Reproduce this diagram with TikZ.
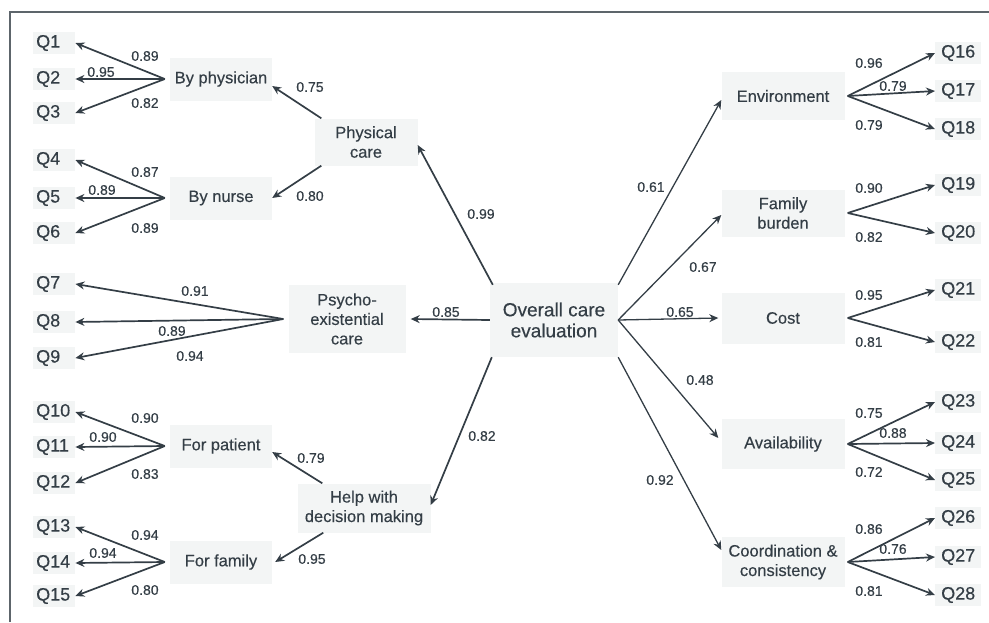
\documentclass[tikz,border=0pt]{standalone}
\usepackage{fontspec}
\setmainfont{Liberation Sans}[FakeBold=0.35]
\usetikzlibrary{arrows.meta}
\definecolor{ink}{RGB}{52,62,70}
\definecolor{boxbg}{RGB}{243,245,245}
\begin{document}
\begin{tikzpicture}[x=1pt,y=-1pt,
  lat/.style={fill=boxbg, text=ink, font=\fontsize{16.5}{19.5}\selectfont, align=center, inner sep=0pt},
  qL/.style={fill=boxbg, text=ink, font=\fontsize{18}{20}\selectfont, anchor=west, inner xsep=3pt, inner ysep=3pt, text width=36pt, align=left},
  qR/.style={fill=boxbg, text=ink, font=\fontsize{18}{20}\selectfont, anchor=west, inner xsep=6pt, inner ysep=3pt},
  num/.style={text=ink, font=\fontsize{14}{16}\selectfont, inner sep=1pt},
  arr/.style={draw=ink, line width=1.7pt, -{Stealth[length=9pt,width=8pt]}},
  thinarr/.style={arr, line width=1.3pt},
  frame/.style={draw=ink!80, line width=1.5pt}]
\useasboundingbox (0,0) rectangle (989,622);
% frame
\coordinate (fTL) at (10,12);
\coordinate (fTR) at (989,12);
\coordinate (fBL) at (10,622);
\draw[frame] (fBL) -- (fTL) -- (fTR);

% ---- central node
\node[lat, font=\fontsize{19}{21}\selectfont, minimum width=128pt, minimum height=74pt] (overall) at (554,320) {Overall care\\evaluation};

% ---- left second level
\node[lat, minimum width=103pt, minimum height=47pt] (physical) at (366,142) {Physical\\care};
\node[lat, minimum width=117pt, minimum height=68pt] (psycho) at (347,319) {Psycho-\\existential\\care};
\node[lat, minimum width=133pt, minimum height=49pt] (help) at (364,508) {Help with\\decision making};

% ---- left first level
\node[lat, minimum width=102pt, minimum height=43pt] (bphys) at (221,79) {By physician};
\node[lat, minimum width=102pt, minimum height=43pt] (bnurse) at (221,198) {By nurse};
\node[lat, minimum width=102pt, minimum height=43pt] (fpat) at (221,446) {For patient};
\node[lat, minimum width=102pt, minimum height=43pt] (ffam) at (221,562) {For family};

% ---- right level
\node[lat, minimum width=123pt, minimum height=48pt] (env) at (783,96) {Environment};
\node[lat, minimum width=123pt, minimum height=47pt] (fburden) at (783,213) {Family\\burden};
\node[lat, minimum width=123pt, minimum height=51pt] (cost) at (783,318) {Cost};
\node[lat, minimum width=123pt, minimum height=50pt] (avail) at (783,444) {Availability};
\node[lat, minimum width=123pt, minimum height=50pt] (coord) at (783,562) {Coordination \&\\consistency};

% ---- left Q nodes
\node[qL] (q1) at (33,43) {Q1};
\node[qL] (q2) at (33,79) {Q2};
\node[qL] (q3) at (33,113) {Q3};
\node[qL] (q4) at (33,160) {Q4};
\node[qL] (q5) at (33,198) {Q5};
\node[qL] (q6) at (33,233) {Q6};
\node[qL] (q7) at (33,284) {Q7};
\node[qL] (q8) at (33,322) {Q8};
\node[qL] (q9) at (33,358) {Q9};
\node[qL] (q10) at (33,412) {Q10};
\node[qL] (q11) at (33,447) {Q11};
\node[qL] (q12) at (33,483) {Q12};
\node[qL] (q13) at (33,527) {Q13};
\node[qL] (q14) at (33,563) {Q14};
\node[qL] (q15) at (33,596) {Q15};

% ---- right Q nodes
\node[qR] (q16) at (935,53) {Q16};
\node[qR] (q17) at (935,91) {Q17};
\node[qR] (q18) at (935,129) {Q18};
\node[qR] (q19) at (935,185) {Q19};
\node[qR] (q20) at (935,233) {Q20};
\node[qR] (q21) at (935,290) {Q21};
\node[qR] (q22) at (935,342) {Q22};
\node[qR] (q23) at (935,402) {Q23};
\node[qR] (q24) at (935,443) {Q24};
\node[qR] (q25) at (935,480) {Q25};
\node[qR] (q26) at (935,518) {Q26};
\node[qR] (q27) at (935,557) {Q27};
\node[qR] (q28) at (935,595) {Q28};

% ---- fan origins
\coordinate (bpO) at ([xshift=-5pt]bphys.west);
\coordinate (bnO) at ([xshift=-5pt]bnurse.west);
\coordinate (psO) at ([xshift=-5pt]psycho.west);
\coordinate (fpO) at ([xshift=-5pt]fpat.west);
\coordinate (ffO) at ([xshift=-5pt]ffam.west);
\coordinate (envO) at ([xshift=3pt]env.east);
\coordinate (fbO) at ([xshift=3pt]fburden.east);
\coordinate (coO) at ([xshift=3pt]cost.east);
\coordinate (avO) at ([xshift=3pt]avail.east);
\coordinate (cdO) at ([xshift=3pt]coord.east);

% ---- left fans
\draw[arr] (bpO) -- (q1.east);
\draw[arr] (bpO) -- (q2.east);
\draw[arr] (bpO) -- (q3.east);
\draw[arr] (bnO) -- (q4.east);
\draw[arr] (bnO) -- (q5.east);
\draw[arr] (bnO) -- (q6.east);
\draw[arr] (psO) -- (q7.east);
\draw[arr] (psO) -- (q8.east);
\draw[arr] (psO) -- (q9.east);
\draw[arr] (fpO) -- (q10.east);
\draw[arr] (fpO) -- (q11.east);
\draw[arr] (fpO) -- (q12.east);
\draw[arr] (ffO) -- (q13.east);
\draw[arr] (ffO) -- (q14.east);
\draw[arr] (ffO) -- (q15.east);

% ---- right fans
\draw[arr] (envO) -- (q16.west);
\draw[arr] (envO) -- (q17.west);
\draw[arr] (envO) -- (q18.west);
\draw[arr] (fbO) -- (q19.west);
\draw[arr] (fbO) -- (q20.west);
\draw[arr] (coO) -- (q21.west);
\draw[arr] (coO) -- (q22.west);
\draw[arr] (avO) -- (q23.west);
\draw[arr] (avO) -- (q24.west);
\draw[arr] (avO) -- (q25.west);
\draw[arr] (cdO) -- (q26.west);
\draw[arr] (cdO) -- (q27.west);
\draw[arr] (cdO) -- (q28.west);

% ---- second to first level
\draw[arr] ([xshift=7pt]physical.north west) -- ([yshift=-7pt]bphys.east);
\draw[arr] ([xshift=7pt]physical.south west) -- (bnurse.east);
\draw[arr] ([xshift=25pt]help.north west) -- ([yshift=-6pt]fpat.east);
\draw[arr] ([xshift=26pt]help.south west) -- ([xshift=3pt]ffam.east);

% ---- central arrows
\draw[arr] ([xshift=3pt,yshift=-2pt]overall.north west) -- ([yshift=-3pt]physical.east);
\draw[arr] (overall.west) -- ([xshift=5pt]psycho.east);
\draw[arr] ([xshift=2pt]overall.south west) -- ([yshift=3pt]help.east);
\draw[thinarr] ([yshift=-2pt]overall.north east) -- ([yshift=-4pt]env.west);
\draw[thinarr] (overall.east) -- ([yshift=-2pt]fburden.west);
\draw[thinarr] (overall.east) -- ([xshift=-3pt]cost.west);
\draw[thinarr] (overall.east) -- ([xshift=-3pt,yshift=6pt]avail.west);
\draw[thinarr] (overall.south east) -- ([yshift=12pt]coord.west);

% ---- loading labels
\node[num] (n1) at (145,56) {0.89};
\node[num] (n2) at (101,72) {0.95};
\node[num] (n3) at (145,103) {0.82};
\node[num] (n4) at (145,172) {0.87};
\node[num] (n5) at (102,190) {0.89};
\node[num] (n6) at (145,228) {0.89};
\node[num] (n7) at (195,291) {0.91};
\node[num] (n8) at (172,331) {0.89};
\node[num] (n9) at (190,356) {0.94};
\node[num] (n10) at (145,418) {0.90};
\node[num] (n11) at (103,437) {0.90};
\node[num] (n12) at (145,474) {0.83};
\node[num] (n13) at (145,535) {0.94};
\node[num] (n14) at (103,553) {0.94};
\node[num] (n15) at (145,590) {0.80};
\node[num] (m1) at (310,87) {0.75};
\node[num] (m2) at (310,196) {0.80};
\node[num] (m3) at (311,458) {0.79};
\node[num] (m4) at (312,559) {0.95};
\node[num] (c1) at (481,214) {0.99};
\node[num] (c2) at (446,312) {0.85};
\node[num] (c3) at (482,436) {0.82};
\node[num] (c4) at (651,187) {0.61};
\node[num] (c5) at (703,267) {0.67};
\node[num] (c6) at (680,312) {0.65};
\node[num] (c7) at (700,380) {0.48};
\node[num] (c8) at (660,480) {0.92};
\node[num] (r1) at (869,63) {0.96};
\node[num] (r2) at (893,86) {0.79};
\node[num] (r3) at (869,125) {0.79};
\node[num] (r4) at (869,188) {0.90};
\node[num] (r5) at (869,237) {0.82};
\node[num] (r6) at (869,295) {0.95};
\node[num] (r7) at (869,342) {0.81};
\node[num] (r8) at (869,413) {0.75};
\node[num] (r9) at (893,433) {0.88};
\node[num] (r10) at (869,472) {0.72};
\node[num] (r11) at (869,529) {0.86};
\node[num] (r12) at (893,549) {0.76};
\node[num] (r13) at (869,591) {0.81};
\end{tikzpicture}
\end{document}
